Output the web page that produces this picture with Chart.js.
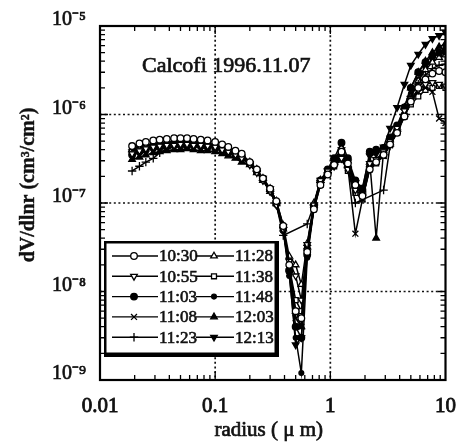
<!DOCTYPE html>
<html><head><meta charset="utf-8">
<script src="https://cdn.jsdelivr.net/npm/chart.js@4/dist/chart.umd.min.js"></script>
<style>html,body{margin:0;padding:0;background:#fff;}canvas{display:block;}</style>
</head><body>
<canvas id="c" width="470" height="446"></canvas>
<script>
// ---- data ----
const RADII = [0.019,0.022,0.025,0.029,0.033,0.038,0.044,0.05,0.057,0.065,0.075,0.086,0.1,0.115,0.13,0.15,0.17,0.2,0.23,0.26,0.3,0.34,0.39,0.44,0.5,0.56,0.63,0.72,0.82,0.95,1.08,1.25,1.42,1.65,1.9,2.2,2.5,2.9,3.3,3.8,4.4,5.0,5.8,6.7,7.7,8.8,10];
const SERIES_LABELS = ['10:30','10:55','11:03','11:08','11:23','11:28','11:38','11:48','12:03','12:13'];
const S_1030 = [4.4e-7,4.7e-7,4.9e-7,5.1e-7,5.2e-7,5.3e-7,5.4e-7,5.4e-7,5.4e-7,5.3e-7,5.2e-7,5.1e-7,4.9e-7,4.6e-7,4.3e-7,3.9e-7,3.6e-7,2.9e-7,2.4e-7,1.9e-7,1.45e-7,1.05e-7,5.5e-8,2.0e-8,6e-9,5e-9,2.8e-8,8.5e-8,1.6e-7,2.1e-7,2.7e-7,3.8e-7,2.8e-7,1.6e-7,1.2e-7,2.4e-7,2.9e-7,3.5e-7,4.6e-7,6.2e-7,9.5e-7,1.4e-6,2.0e-6,2.5e-6,2.9e-6,3.1e-6,3.0e-6];
const S_1055 = [3.6e-7,3.9e-7,4.1e-7,4.3e-7,4.4e-7,4.5e-7,4.5e-7,4.6e-7,4.6e-7,4.5e-7,4.5e-7,4.4e-7,4.3e-7,4.0e-7,3.8e-7,3.5e-7,3.2e-7,2.7e-7,2.2e-7,1.8e-7,1.35e-7,9.5e-8,5.0e-8,2.2e-8,1.5e-8,8e-9,3.4e-8,9.5e-8,1.8e-7,2.3e-7,2.6e-7,3.2e-7,2.4e-7,1.4e-7,1.2e-7,2.8e-7,3.1e-7,3.8e-7,5.0e-7,7.0e-7,1.1e-6,1.5e-6,1.9e-6,2.2e-6,2.3e-6,2.2e-6,2.1e-6];
const S_1103 = [3.5e-7,3.8e-7,4.0e-7,4.2e-7,4.3e-7,4.4e-7,4.5e-7,4.5e-7,4.5e-7,4.5e-7,4.4e-7,4.3e-7,4.2e-7,4.0e-7,3.7e-7,3.5e-7,3.2e-7,2.8e-7,2.3e-7,1.85e-7,1.4e-7,1.0e-7,5.3e-8,1.7e-8,4e-9,3e-9,2.6e-8,9e-8,1.8e-7,2.4e-7,3.2e-7,4.8e-7,3.2e-7,1.8e-7,1.4e-7,3.8e-7,4.0e-7,4.2e-7,5.5e-7,7.5e-7,1.2e-6,2.0e-6,3.0e-6,3.9e-6,4.6e-6,5.0e-6,5.2e-6];
const S_1108 = [3.9e-7,4.1e-7,4.3e-7,4.4e-7,4.6e-7,4.7e-7,4.8e-7,4.8e-7,4.8e-7,4.8e-7,4.7e-7,4.6e-7,4.5e-7,4.2e-7,3.9e-7,3.6e-7,3.3e-7,2.8e-7,2.3e-7,1.9e-7,1.4e-7,1.0e-7,5.0e-8,1.6e-8,5e-9,4e-9,3.0e-8,9e-8,1.7e-7,2.2e-7,2.9e-7,3.6e-7,2.5e-7,4.5e-8,1.1e-7,2.5e-7,2.9e-7,3.4e-7,4.5e-7,6.2e-7,9.5e-7,1.4e-6,1.8e-6,2.0e-6,1.8e-6,9e-7,8e-7];
const S_1123 = [2.3e-7,2.6e-7,2.9e-7,3.2e-7,3.7e-7,4.1e-7,4.4e-7,4.5e-7,4.6e-7,4.6e-7,4.5e-7,4.4e-7,4.3e-7,4.1e-7,3.8e-7,3.6e-7,3.3e-7,2.8e-7,2.3e-7,1.8e-7,1.35e-7,9.5e-8,4.3e-8,null,null,null,5.8e-8,9.5e-8,1.7e-7,2.2e-7,2.7e-7,3.3e-7,2.5e-7,1.0e-7,null,null,null,1.4e-7,4.4e-7,6.5e-7,1.0e-6,1.6e-6,2.2e-6,2.8e-6,3.3e-6,3.6e-6,3.7e-6];
const S_1128 = [4.0e-7,4.2e-7,4.4e-7,4.6e-7,4.7e-7,4.8e-7,4.9e-7,4.9e-7,4.9e-7,4.8e-7,4.7e-7,4.6e-7,4.5e-7,4.2e-7,3.9e-7,3.7e-7,3.4e-7,2.9e-7,2.4e-7,1.9e-7,1.45e-7,1.05e-7,5.6e-8,2.5e-8,2.0e-8,1.2e-8,3.5e-8,1.0e-7,1.8e-7,2.3e-7,3.0e-7,4.2e-7,3.0e-7,1.7e-7,1.4e-7,2.7e-7,3.1e-7,3.7e-7,4.9e-7,6.8e-7,1.0e-6,1.6e-6,2.4e-6,3.2e-6,3.9e-6,4.4e-6,4.7e-6];
const S_1138 = [3.7e-7,4.0e-7,4.2e-7,4.4e-7,4.5e-7,4.6e-7,4.6e-7,4.7e-7,4.7e-7,4.6e-7,4.5e-7,4.4e-7,4.3e-7,4.1e-7,3.8e-7,3.5e-7,3.3e-7,2.8e-7,2.3e-7,1.85e-7,1.4e-7,1.0e-7,5.2e-8,1.9e-8,8e-9,6e-9,3.0e-8,8.5e-8,1.6e-7,2.1e-7,2.6e-7,3.1e-7,2.3e-7,1.3e-7,1.1e-7,2.4e-7,2.8e-7,3.4e-7,4.5e-7,6.3e-7,9.8e-7,1.3e-6,1.6e-6,1.9e-6,2.0e-6,2.1e-6,2.0e-6];
const S_1148 = [4.1e-7,4.3e-7,4.5e-7,4.6e-7,4.7e-7,4.8e-7,4.9e-7,5.0e-7,5.0e-7,4.9e-7,4.8e-7,4.7e-7,4.5e-7,4.2e-7,3.9e-7,3.6e-7,3.3e-7,2.8e-7,2.3e-7,1.8e-7,1.35e-7,9.5e-8,4.8e-8,1.5e-8,3e-9,1.2e-9,2.4e-8,8.5e-8,1.7e-7,2.2e-7,2.8e-7,3.4e-7,2.6e-7,1.5e-7,1.3e-7,2.6e-7,3.0e-7,3.6e-7,4.8e-7,6.6e-7,1.0e-6,1.7e-6,2.5e-6,3.4e-6,4.3e-6,5.0e-6,5.6e-6];
const S_1203 = [3.1e-7,3.3e-7,3.5e-7,3.7e-7,3.8e-7,3.9e-7,4.0e-7,4.0e-7,4.1e-7,4.0e-7,3.9e-7,3.9e-7,3.8e-7,3.6e-7,3.4e-7,3.2e-7,2.9e-7,2.7e-7,2.2e-7,1.8e-7,1.35e-7,9.8e-8,5.1e-8,1.8e-8,6e-9,4e-9,3.2e-8,9.5e-8,1.8e-7,2.3e-7,2.9e-7,3.7e-7,2.7e-7,1.6e-7,1.3e-7,2.9e-7,4.0e-8,3.9e-7,5.2e-7,7.2e-7,1.2e-6,2.0e-6,3.0e-6,4.0e-6,5.0e-6,5.8e-6,6.3e-6];
const S_1213 = [3.8e-7,4.0e-7,4.2e-7,4.4e-7,4.5e-7,4.6e-7,4.7e-7,4.7e-7,4.7e-7,4.7e-7,4.6e-7,4.5e-7,4.4e-7,4.1e-7,3.8e-7,3.6e-7,3.3e-7,2.8e-7,2.3e-7,1.9e-7,1.45e-7,1.0e-7,5.4e-8,1.7e-8,2.5e-9,3e-9,2.8e-8,9e-8,1.7e-7,2.3e-7,3.0e-7,4.0e-7,2.9e-7,1.7e-7,1.5e-7,3.4e-7,3.6e-7,4.3e-7,7.0e-7,1.2e-6,2.2e-6,3.6e-6,4.8e-6,6.2e-6,7.2e-6,7.8e-6,8.5e-6];
const SERIES_VALUES = [S_1030,S_1055,S_1103,S_1108,S_1123,S_1128,S_1138,S_1148,S_1203,S_1213];

const X_TICKS = [0.01,0.1,1,10];
const X_TICK_LABELS = ['0.01','0.1','1','10'];
const Y_TICKS = [1e-9,1e-8,1e-7,1e-6,1e-5];
const Y_TICK_LABELS = ['10\u207B\u2079','10\u207B\u2078','10\u207B\u2077','10\u207B\u2076','10\u207B\u2075'];
const CHART_TITLE = 'Calcofi 1996.11.07';
const X_TITLE = 'radius ( \u03BC m)';
const Y_TITLE = 'dV/dlnr (cm\u00B3/cm\u00B2)';

// ---- styles ----
const SERIF = '"Liberation Serif", "Times New Roman", serif';
const MARKERS = [
  {style:'circle',rot:0,r:3.3,fill:'#fff'},
  {style:'triangle',rot:180,r:3.8,fill:'#fff'},
  {style:'circle',rot:0,r:3.3,fill:'#000'},
  {style:'crossRot',rot:0,r:4.2,fill:'#000'},
  {style:'cross',rot:0,r:4.2,fill:'#000'},
  {style:'triangle',rot:0,r:3.8,fill:'#fff'},
  {style:'rect',rot:0,r:3.5,fill:'#fff'},
  {style:'circle',rot:0,r:2.4,fill:'#000'},
  {style:'triangle',rot:0,r:3.8,fill:'#000'},
  {style:'triangle',rot:180,r:3.8,fill:'#000'}
];

const datasets = SERIES_LABELS.map((lab,i)=>({
  label: lab,
  data: RADII.map((r,j)=>({x:r, y:SERIES_VALUES[i][j]})),
  borderColor:'#000', borderWidth:1.5,
  pointStyle: MARKERS[i].style, pointRotation: MARKERS[i].rot,
  pointRadius: MARKERS[i].r, pointBackgroundColor: MARKERS[i].fill,
  pointBorderColor:'#000', pointBorderWidth:1.3,
  spanGaps:true, tension:0, fill:false
}));

function heavyText(ctx, txt, x, y, sw){
  ctx.lineWidth = sw; ctx.strokeStyle = ctx.fillStyle;
  ctx.strokeText(txt, x, y); ctx.fillText(txt, x, y);
}

const decorPlugin = {
  id:'decor',
  beforeDatasetsDraw(chart){
    const {ctx, chartArea:a, scales:{x,y}} = chart;
    ctx.save();
    ctx.strokeStyle='#111'; ctx.lineWidth=1.7; ctx.setLineDash([2,2.6]);
    X_TICKS.slice(1,-1).forEach(v=>{const p=x.getPixelForValue(v);ctx.beginPath();ctx.moveTo(p,a.top);ctx.lineTo(p,a.bottom);ctx.stroke();});
    Y_TICKS.slice(1,-1).forEach(v=>{const p=y.getPixelForValue(v);ctx.beginPath();ctx.moveTo(a.left,p);ctx.lineTo(a.right,p);ctx.stroke();});
    ctx.setLineDash([]);
    ctx.lineWidth=1.3; ctx.strokeStyle='#000';
    for(let k=0;k<X_TICKS.length-1;k++){
      for(let m=1;m<=9;m++){
        const v=X_TICKS[k]*m; const p=x.getPixelForValue(v); const L=(m===1)?8:5;
        ctx.beginPath();ctx.moveTo(p,a.bottom);ctx.lineTo(p,a.bottom-L);ctx.moveTo(p,a.top);ctx.lineTo(p,a.top+L);ctx.stroke();
      }
    }
    for(let k=0;k<Y_TICKS.length-1;k++){
      for(let m=1;m<=9;m++){
        const v=Y_TICKS[k]*m; const p=y.getPixelForValue(v); const L=(m===1)?8:5;
        ctx.beginPath();ctx.moveTo(a.left,p);ctx.lineTo(a.left+L,p);ctx.moveTo(a.right,p);ctx.lineTo(a.right-L,p);ctx.stroke();
      }
    }
    ctx.restore();
  },
  afterDatasetsDraw(chart){
    const {ctx, chartArea:a} = chart;
    ctx.save();
    ctx.strokeStyle='#000'; ctx.lineWidth=2.2;
    ctx.strokeRect(a.left,a.top,a.right-a.left,a.bottom-a.top);
    // title inside the plot
    ctx.fillStyle='#111'; ctx.font='22px '+SERIF; ctx.textAlign='left'; ctx.textBaseline='middle';
    heavyText(ctx, CHART_TITLE, 142, 66, 0.7);
    // x axis title
    ctx.textAlign='center';
    ctx.font='21px '+SERIF;
    heavyText(ctx, X_TITLE, (a.left+a.right)/2-4, 430, 0.7);
    // y axis title
    ctx.save(); ctx.translate(29,185); ctx.rotate(-Math.PI/2);
    ctx.font='bold 20px '+SERIF; ctx.textAlign='center'; ctx.textBaseline='middle';
    heavyText(ctx, Y_TITLE, 0, 0, 0.4); ctx.restore();
    // legend box
    ctx.fillStyle='#000'; ctx.fillRect(104,241,175,116);
    ctx.fillStyle='#fff'; ctx.fillRect(106.5,243.5,168,109);
    ctx.font='17px '+SERIF; ctx.textBaseline='middle'; ctx.textAlign='left';
    SERIES_LABELS.forEach((lab,i)=>{
      const col=i<5?0:1, row=i%5;
      const yy=256+row*20.3;
      const x1=col?196:112, x2=col?234:158, mx=col?214:134, tx=col?235:159;
      ctx.strokeStyle='#000'; ctx.lineWidth=1.4;
      ctx.beginPath(); ctx.moveTo(x1,yy); ctx.lineTo(x2,yy); ctx.stroke();
      ctx.fillStyle=MARKERS[i].fill; ctx.strokeStyle='#000'; ctx.lineWidth=1.3;
      Chart.helpers.drawPoint(ctx,{pointStyle:MARKERS[i].style,rotation:MARKERS[i].rot,radius:MARKERS[i].r,borderWidth:1.3},mx,yy);
      ctx.fillStyle='#111';
      heavyText(ctx, lab, tx, yy+1, 0.6);
    });
    ctx.restore();
  }
};

new Chart(document.getElementById('c'),{
  type:'line',
  data:{datasets},
  plugins:[decorPlugin],
  options:{
    responsive:false, animation:false, devicePixelRatio:1,
    layout:{padding:{left:0,right:12,top:20,bottom:0}},
    plugins:{legend:{display:false},tooltip:{enabled:false},title:{display:false}},
    scales:{
      x:{type:'logarithmic',min:0.01,max:10,
        afterBuildTicks:s=>{s.ticks=X_TICKS.map(v=>({value:v}));},
        afterFit:s=>{s.height=66;},
        grid:{display:false,drawTicks:false}, border:{display:false},
        ticks:{autoSkip:false,maxRotation:0,padding:14,color:'#111',textStrokeColor:'#111',textStrokeWidth:0.8,
          font:{family:SERIF,size:21},callback:(v,i)=>X_TICK_LABELS[i]},
        title:{display:false}
      },
      y:{type:'logarithmic',min:1e-9,max:1e-5,
        afterBuildTicks:s=>{s.ticks=Y_TICKS.map(v=>({value:v}));},
        afterFit:s=>{s.width=100;},
        grid:{display:false,drawTicks:false}, border:{display:false},
        ticks:{autoSkip:false,padding:14,labelOffset:-6,color:'#111',textStrokeColor:'#111',textStrokeWidth:0.7,
          font:{family:SERIF,size:20},callback:(v,i)=>Y_TICK_LABELS[i]}
      }
    }
  }
});
</script>
</body></html>
